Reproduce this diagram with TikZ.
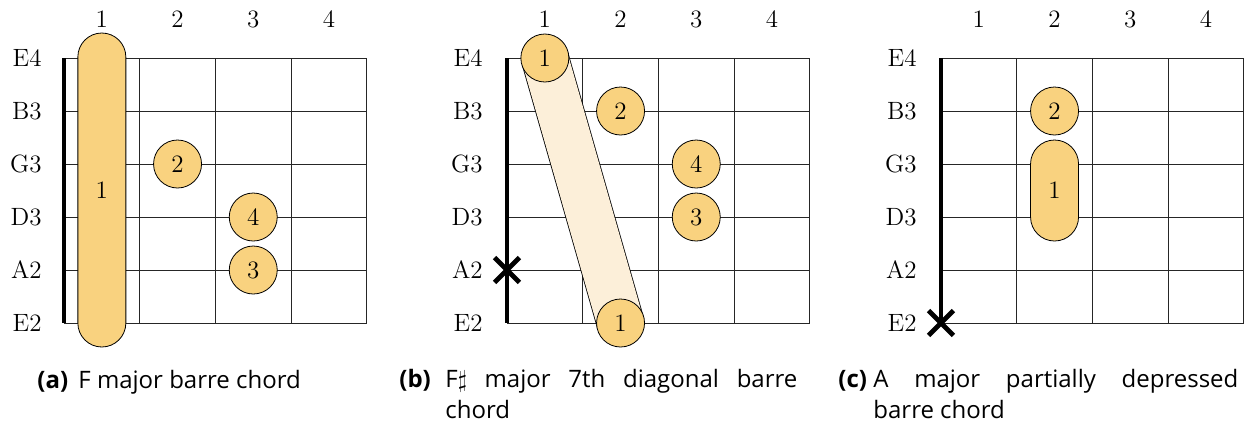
\documentclass[tikz,border=0pt]{standalone}
\usepackage{fontspec}
\setsansfont{Open Sans}
\usepackage{tikz}
\usetikzlibrary{positioning, shapes.misc, backgrounds}
\pgfdeclarelayer{band}
\pgfsetlayers{background,band,main}

\definecolor{fingerfill}{HTML}{F9D27F}
\definecolor{bandfill}{HTML}{FCEFD9}

\begin{document}
\begin{tikzpicture}[
    x=0.5pt, y=-0.5pt,
    font=\fontsize{12.5}{14}\selectfont,
    fretline/.style={line width=0.5pt, draw=black!85},
    nutline/.style={line width=1.8pt, draw=black},
    finger/.style={
        circle, draw=black, line width=0.4pt, fill=fingerfill,
        minimum size=24pt, inner sep=0pt
    },
    barre/.style={
        rectangle, draw=black, line width=0.4pt, fill=fingerfill,
        rounded corners=12pt, minimum width=24pt, inner sep=0pt
    },
    mute/.style={
        cross out, draw=black, line width=2.4pt,
        minimum size=10pt, inner sep=0pt
    },
    strlabel/.style={anchor=east, inner sep=0pt},
    fretnum/.style={inner sep=0pt},
    caplabel/.style={
        font=\sffamily\bfseries\fontsize{12}{15.5}\selectfont,
        anchor=base west, inner sep=0pt
    },
    captext/.style={
        font=\sffamily\fontsize{12}{15.5}\selectfont,
        anchor=base west, inner sep=0pt, align=justify
    }
]
    \useasboundingbox (0,0) rectangle (1250,425);

    % =========================================================================
    % PANEL (a): F MAJOR BARRE CHORD
    % =========================================================================
    \begin{scope}[shift={(64,0)}]
        \begin{scope}[on background layer]
            \foreach \s in {0,...,5}
                \draw [fretline] (0, 58+53*\s) -- (302.8, 58+53*\s);
            \foreach \f in {1,...,4}
                \draw [fretline] (75.7*\f, 58) -- (75.7*\f, 323);
            \draw [nutline] (0, 58) -- (0, 323);
        \end{scope}

        \foreach \s/\n in {0/E4, 1/B3, 2/G3, 3/D3, 4/A2, 5/E2}
            \node [strlabel] (a_\n) at (-22, 58+53*\s) {\n};
        \foreach \f in {1,...,4}
            \node [fretnum] (a_fret\f) at (75.7*\f-37.85, 19) {\f};

        \node [barre, minimum height=157pt] (a_barre) at (37.85, 190) {1};
        \node [finger] (a_g3) at (113.55, 164) {2};
        \node [finger] (a_d3) at (189.25, 217) {4};
        \node [finger] (a_a2) at (189.25, 270) {3};
    \end{scope}

    \node [caplabel] (a_cap) at (37, 388) {(a)};
    \node [captext, text width=125pt] (a_text) at (78, 388) {F major barre chord};

    % =========================================================================
    % PANEL (b): F# MAJOR 7TH DIAGONAL BARRE CHORD
    % =========================================================================
    \begin{scope}[shift={(507,0)}]
        \begin{scope}[on background layer]
            \foreach \s in {0,...,5}
                \draw [fretline] (0, 58+53*\s) -- (302.8, 58+53*\s);
            \foreach \f in {1,...,4}
                \draw [fretline] (75.7*\f, 58) -- (75.7*\f, 323);
            \draw [nutline] (0, 58) -- (0, 323);
        \end{scope}

        \foreach \s/\n in {0/E4, 1/B3, 2/G3, 3/D3, 4/A2, 5/E2}
            \node [strlabel] (b_\n) at (-24, 58+53*\s) {\n};
        \foreach \f in {1,...,4}
            \node [fretnum] (b_fret\f) at (75.7*\f-37.85, 19) {\f};

        \node [finger] (b_top) at (37.85, 58) {1};
        \node [finger] (b_bottom) at (113.55, 323) {1};
        \node [finger] (b_b3) at (113.55, 111) {2};
        \node [finger] (b_g3) at (189.25, 164) {4};
        \node [finger] (b_d3) at (189.25, 217) {3};
        \node [mute] (b_mute) at (0, 270) {};

        % diagonal barre between the two index-finger dots
        \begin{pgfonlayer}{band}
            \draw [line width=24pt, draw=black] (b_top.center) -- (b_bottom.center);
            \draw [line width=23.2pt, draw=bandfill] (b_top.center) -- (b_bottom.center);
        \end{pgfonlayer}
    \end{scope}

    \node [caplabel] (b_cap) at (399, 387) {(b)};
    \node [captext, text width=176pt] (b_text) at (445, 387)
        {F$\sharp$ major 7th diagonal barre\linebreak chord};

    % =========================================================================
    % PANEL (c): A MAJOR PARTIALLY DEPRESSED BARRE CHORD
    % =========================================================================
    \begin{scope}[shift={(941,0)}]
        \begin{scope}[on background layer]
            \foreach \s in {0,...,5}
                \draw [fretline] (0, 58+53*\s) -- (302.8, 58+53*\s);
            \foreach \f in {1,...,4}
                \draw [fretline] (75.7*\f, 58) -- (75.7*\f, 323);
            \draw [nutline] (0, 58) -- (0, 323);
        \end{scope}

        \foreach \s/\n in {0/E4, 1/B3, 2/G3, 3/D3, 4/A2, 5/E2}
            \node [strlabel] (c_\n) at (-24, 58+53*\s) {\n};
        \foreach \f in {1,...,4}
            \node [fretnum] (c_fret\f) at (75.7*\f-37.85, 19) {\f};

        \node [finger] (c_b3) at (113.55, 111) {2};
        \node [barre, minimum height=50.5pt] (c_barre) at (113.55, 190.5) {1};
        \node [mute] (c_mute) at (0, 323) {};
    \end{scope}

    \node [caplabel] (c_cap) at (838, 387) {(c)};
    \node [captext, text width=182.5pt] (c_text) at (873, 387)
        {A major partially depressed\linebreak barre chord};

\end{tikzpicture}
\end{document}
